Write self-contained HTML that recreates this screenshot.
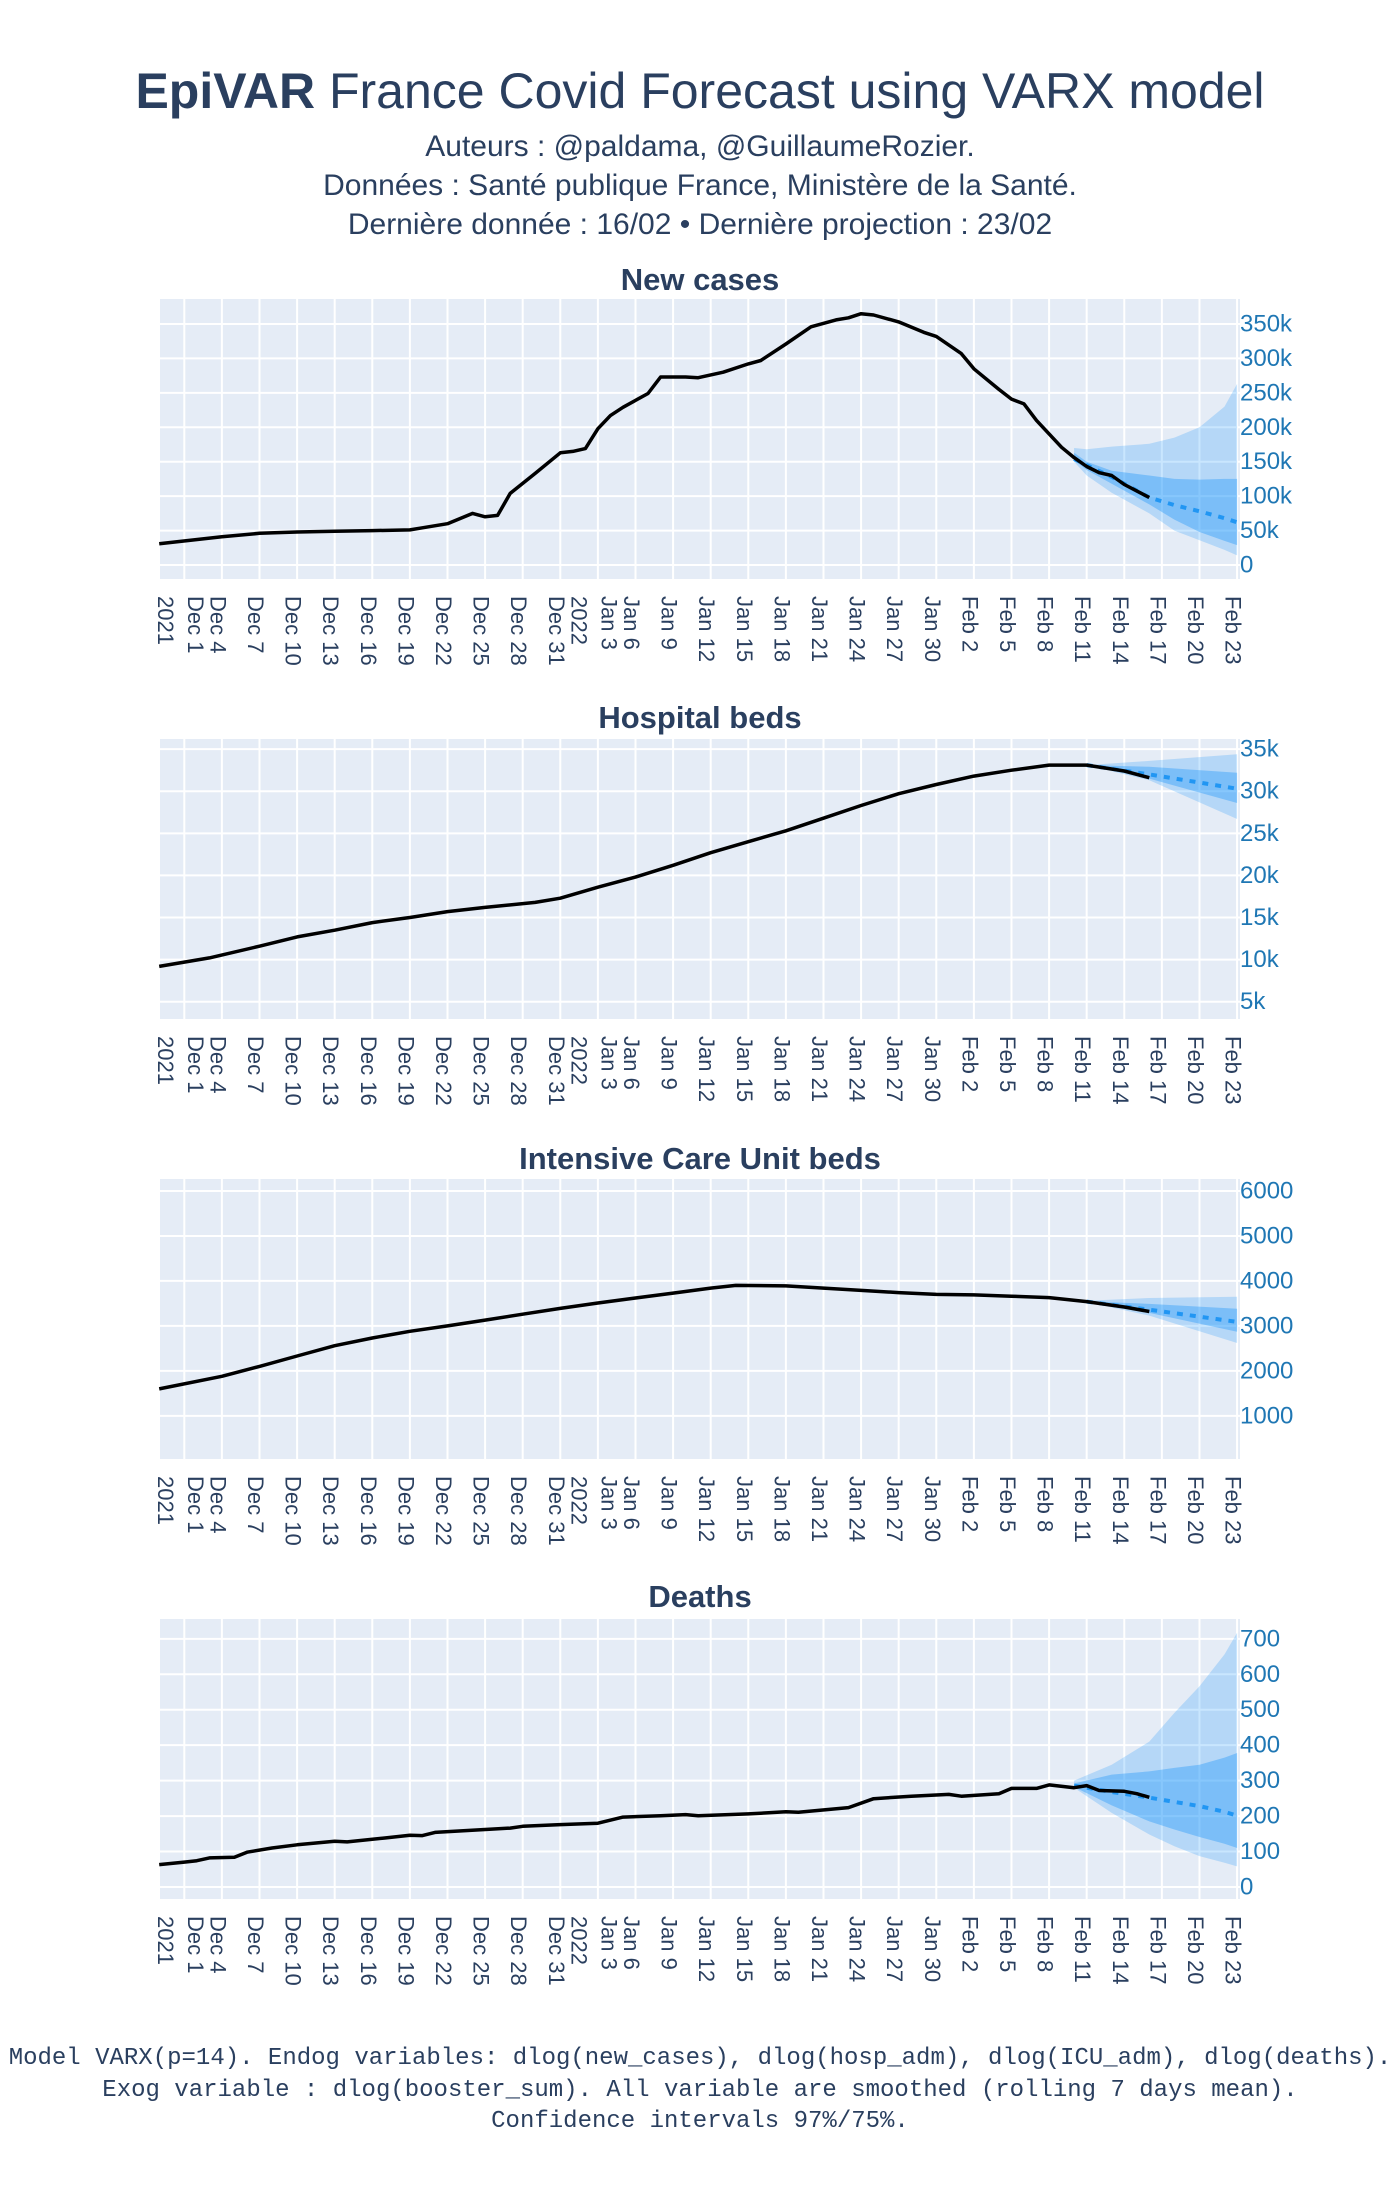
<!DOCTYPE html>
<html><head><meta charset="utf-8"><style>
html,body{margin:0;padding:0;background:#fff;}
svg{display:block;}
.t{font-family:"Liberation Sans",sans-serif;fill:#2a3f5f;}
.mono{font-family:"Liberation Mono",monospace;fill:#2a3f5f;}
</style></head><body>
<svg id="fig" width="1400" height="2200" viewBox="0 0 1400 2200" xmlns="http://www.w3.org/2000/svg">
<rect width="1400" height="2200" fill="#fff"/>
<text class="t" x="700" y="108" text-anchor="middle" font-size="50"><tspan font-weight="bold">EpiVAR</tspan> France Covid Forecast using VARX model</text>
<text class="t" x="700" y="156" text-anchor="middle" font-size="30">Auteurs : @paldama, @GuillaumeRozier.</text>
<text class="t" x="700" y="195" text-anchor="middle" font-size="30">Données : Santé publique France, Ministère de la Santé.</text>
<text class="t" x="700" y="234" text-anchor="middle" font-size="30">Dernière donnée : 16/02 • Dernière projection : 23/02</text>
<text class="mono" x="700" y="2064" text-anchor="middle" font-size="24">Model VARX(p=14). Endog variables: dlog(new_cases), dlog(hosp_adm), dlog(ICU_adm), dlog(deaths).</text>
<text class="mono" x="700" y="2096" text-anchor="middle" font-size="24">Exog variable : dlog(booster_sum). All variable are smoothed (rolling 7 days mean).</text>
<text class="mono" x="700" y="2127" text-anchor="middle" font-size="24">Confidence intervals 97%/75%.</text>
<g id="charts"></g>
</svg>
<script>
// ---- data (dates as YYYY-MM-DD) ----
const casesDates = ["2021-11-29","2021-12-04","2021-12-07","2021-12-10","2021-12-13","2021-12-16","2021-12-19","2021-12-20","2021-12-22","2021-12-24","2021-12-25","2021-12-26","2021-12-27","2021-12-29","2021-12-31","2022-01-01","2022-01-02","2022-01-03","2022-01-04","2022-01-05","2022-01-07","2022-01-08","2022-01-10","2022-01-11","2022-01-13","2022-01-15","2022-01-16","2022-01-18","2022-01-20","2022-01-22","2022-01-23","2022-01-24","2022-01-25","2022-01-27","2022-01-29","2022-01-30","2022-02-01","2022-02-02","2022-02-04","2022-02-05","2022-02-06","2022-02-07","2022-02-09","2022-02-10","2022-02-11","2022-02-12","2022-02-13","2022-02-14","2022-02-16"];
const casesValues = [31,41,46,48,49,50,51,54,60,75,70,72,104,133,163,165,169,198,217,229,249,273,273,272,280,292,297,321,346,356,359,365,363,353,338,332,307,285,255,241,234,210,171,156,143,134,130,117,98];
const casesFcDates = ["2022-02-10","2022-02-11","2022-02-13","2022-02-16","2022-02-18","2022-02-20","2022-02-22","2022-02-23"];
const casesMedian = [154,145,128,98,87,78,68,62];
const casesHi97 = [170,168,172,176,185,200,230,263];
const casesLo97 = [150,130,105,75,50,36,22,14];
const casesHi75 = [163,150,137,130,125,124,125,125];
const casesLo75 = [152,138,118,88,66,48,35,29];

const hospDates = ["2021-11-29","2021-12-03","2021-12-07","2021-12-10","2021-12-13","2021-12-16","2021-12-19","2021-12-22","2021-12-25","2021-12-29","2021-12-31","2022-01-03","2022-01-06","2022-01-09","2022-01-12","2022-01-15","2022-01-18","2022-01-21","2022-01-24","2022-01-27","2022-01-30","2022-02-02","2022-02-05","2022-02-08","2022-02-11","2022-02-14","2022-02-16"];
const hospValues = [9.2,10.2,11.6,12.7,13.5,14.4,15.0,15.7,16.2,16.8,17.3,18.6,19.8,21.2,22.7,24.0,25.3,26.8,28.3,29.7,30.8,31.8,32.5,33.1,33.1,32.4,31.6];
const hospFcDates = ["2022-02-11","2022-02-16","2022-02-23"];
const hospMedian = [33.1,32.0,30.3];
const hospHi97 = [33.1,33.6,34.4];
const hospLo97 = [33.1,31.3,26.7];
const hospHi75 = [33.1,32.9,32.2];
const hospLo75 = [33.1,31.5,28.6];

const icuDates = ["2021-11-29","2021-12-04","2021-12-07","2021-12-10","2021-12-13","2021-12-16","2021-12-19","2021-12-22","2021-12-25","2021-12-28","2021-12-31","2022-01-03","2022-01-06","2022-01-09","2022-01-12","2022-01-14","2022-01-18","2022-01-21","2022-01-24","2022-01-27","2022-01-30","2022-02-02","2022-02-05","2022-02-08","2022-02-11","2022-02-14","2022-02-16"];
const icuValues = [1600,1880,2100,2330,2560,2730,2880,3000,3130,3260,3390,3510,3620,3730,3840,3900,3890,3840,3790,3740,3700,3690,3660,3630,3540,3420,3320];
const icuFcDates = ["2022-02-11","2022-02-16","2022-02-23"];
const icuMedian = [3540,3360,3090];
const icuHi97 = [3560,3620,3650];
const icuLo97 = [3530,3230,2620];
const icuHi75 = [3550,3490,3380];
const icuLo75 = [3535,3290,2870];

const deathDates = ["2021-11-29","2021-12-01","2021-12-02","2021-12-03","2021-12-05","2021-12-06","2021-12-08","2021-12-10","2021-12-13","2021-12-14","2021-12-17","2021-12-19","2021-12-20","2021-12-21","2021-12-25","2021-12-27","2021-12-28","2021-12-31","2022-01-03","2022-01-05","2022-01-08","2022-01-10","2022-01-11","2022-01-15","2022-01-18","2022-01-19","2022-01-23","2022-01-25","2022-01-28","2022-01-31","2022-02-01","2022-02-04","2022-02-05","2022-02-07","2022-02-08","2022-02-10","2022-02-11","2022-02-12","2022-02-14","2022-02-15","2022-02-16"];
const deathValues = [63,70,74,82,84,98,110,119,129,127,138,146,145,154,162,166,171,176,180,197,201,204,201,206,212,211,224,249,256,261,256,263,278,278,288,280,286,272,270,263,253];
const deathFcDates = ["2022-02-10","2022-02-13","2022-02-16","2022-02-18","2022-02-20","2022-02-22","2022-02-23"];
const deathMedian = [286,268,252,240,228,212,201];
const deathHi97 = [300,345,410,491,566,656,717];
const deathLo97 = [280,209,148,115,87,68,58];
const deathHi75 = [292,317,326,336,345,365,378];
const deathLo75 = [282,230,185,162,141,122,110];

const xTickDates = ["2021-12-01","2021-12-04","2021-12-07","2021-12-10","2021-12-13","2021-12-16","2021-12-19","2021-12-22","2021-12-25","2021-12-28","2021-12-31","2022-01-03","2022-01-06","2022-01-09","2022-01-12","2022-01-15","2022-01-18","2022-01-21","2022-01-24","2022-01-27","2022-01-30","2022-02-02","2022-02-05","2022-02-08","2022-02-11","2022-02-14","2022-02-17","2022-02-20","2022-02-23"];
const xTickLabels = ["Dec 1","Dec 4","Dec 7","Dec 10","Dec 13","Dec 16","Dec 19","Dec 22","Dec 25","Dec 28","Dec 31","Jan 3","Jan 6","Jan 9","Jan 12","Jan 15","Jan 18","Jan 21","Jan 24","Jan 27","Jan 30","Feb 2","Feb 5","Feb 8","Feb 11","Feb 14","Feb 17","Feb 20","Feb 23"];
const xTickYears = ["2021","","","","","","","","","","","2022","","","","","","","","","","","","","","","","",""];

const casesTicks = [0,50,100,150,200,250,300,350];
const casesTickLabels = ["0","50k","100k","150k","200k","250k","300k","350k"];
const hospTicks = [5,10,15,20,25,30,35];
const hospTickLabels = ["5k","10k","15k","20k","25k","30k","35k"];
const icuTicks = [1000,2000,3000,4000,5000,6000];
const icuTickLabels = ["1000","2000","3000","4000","5000","6000"];
const deathTicks = [0,100,200,300,400,500,600,700];
const deathTickLabels = ["0","100","200","300","400","500","600","700"];

const NS = "http://www.w3.org/2000/svg";
const root = document.getElementById("charts");
const X0 = 160, X1 = 1240, PXDAY = 12.533, XREF = 184.3;
function dayOf(s){const p=s.split("-");return (Date.UTC(+p[0],+p[1]-1,+p[2])-Date.UTC(2021,11,1))/86400000;}
function xScale(s){return XREF + dayOf(s)*PXDAY;}
function mk(tag, attrs, parent){const e=document.createElementNS(NS,tag);for(const k in attrs)e.setAttribute(k,attrs[k]);(parent||root).appendChild(e);return e;}

function chart(cfg){
  const g = mk("g",{});
  
  
  const top=cfg.top, h=280, bot=top+h;
  const yScale = v => bot - (v - cfg.ymin)/(cfg.ymax - cfg.ymin)*h;
  const bg = mk("rect",{x:X0,y:top,width:X1-X0,height:h,fill:"#e5ecf6"},g);
  
  
  const title = mk("text",{x:700,y:cfg.titleY,"text-anchor":"middle","font-size":31,"font-weight":"bold",class:"t"},g);
  title.textContent = cfg.title;
  
  
  xTickDates.forEach((d,i)=>{
    const x=xScale(d);
    const gl = mk("line",{x1:x,x2:x,y1:top,y2:bot,stroke:"#fff","stroke-width":2},g);
    
    
    const tg = mk("text",{class:"t","font-size":22,transform:"translate("+x+","+(bot+17)+") rotate(90)"},g);
    
    
    if(xTickYears[i]){
      const a=mk("tspan",{x:0,y:-11,"dominant-baseline":"central"},tg); a.textContent=xTickLabels[i];
      const b=mk("tspan",{x:0,y:19,"dominant-baseline":"central"},tg); b.textContent=xTickYears[i];
    } else {
      const a=mk("tspan",{x:0,y:4,"dominant-baseline":"central"},tg); a.textContent=xTickLabels[i];
    }
  });
  cfg.ticks.forEach((v,i)=>{
    const y=yScale(v);
    const gl = mk("line",{x1:X0,x2:X1,y1:y,y2:y,stroke:"#fff","stroke-width":2},g);
    
    
    const tl = mk("text",{x:1240,y:y,"dominant-baseline":"central","font-size":24,fill:"#1f77b4","font-family":"Liberation Sans, sans-serif"},g);
    tl.textContent = cfg.tickLabels[i];
    
    
  });
  function band(hi, lo, fill, nm){
    let d="";
    cfg.fcDates.forEach((dt,i)=>{d+=(i?"L":"M")+xScale(dt).toFixed(1)+","+yScale(hi[i]).toFixed(1);});
    for(let i=cfg.fcDates.length-1;i>=0;i--) d+="L"+xScale(cfg.fcDates[i]).toFixed(1)+","+yScale(lo[i]).toFixed(1);
    const p=mk("path",{d:d+"Z",fill:fill,stroke:"none"},g);
    
    
  }
  band(cfg.hi97, cfg.lo97, "rgba(30,150,250,0.24)", cfg.name + '-ci-97-band');
  band(cfg.hi75, cfg.lo75, "rgba(30,150,250,0.38)", cfg.name + '-ci-75-band');
  const md = cfg.fcDates.map((dt,i)=>xScale(dt).toFixed(1)+","+yScale(cfg.median[i]).toFixed(1)).join(" ");
  const ml = mk("polyline",{points:md,fill:"none",stroke:"#2196f3","stroke-width":4,"stroke-dasharray":"6,7"},g);
  
  
  const ad = cfg.dates.map((dt,i)=>xScale(dt).toFixed(1)+","+yScale(cfg.values[i]).toFixed(1)).join(" ");
  const al = mk("polyline",{points:ad,fill:"none",stroke:"#000","stroke-width":3.5,"stroke-linejoin":"round"},g);
  
  
}

chart({name:"new-cases",title:"New cases",top:299,titleY:290,ymin:-20.3,ymax:386.3,ticks:casesTicks,tickLabels:casesTickLabels,dates:casesDates,values:casesValues,fcDates:casesFcDates,median:casesMedian,hi97:casesHi97,lo97:casesLo97,hi75:casesHi75,lo75:casesLo75});
chart({name:"hospital-beds",title:"Hospital beds",top:739,titleY:728,ymin:2.95,ymax:36.2,ticks:hospTicks,tickLabels:hospTickLabels,dates:hospDates,values:hospValues,fcDates:hospFcDates,median:hospMedian,hi97:hospHi97,lo97:hospLo97,hi75:hospHi75,lo75:hospLo75});
chart({name:"icu-beds",title:"Intensive Care Unit beds",top:1179,titleY:1169,ymin:40,ymax:6267,ticks:icuTicks,tickLabels:icuTickLabels,dates:icuDates,values:icuValues,fcDates:icuFcDates,median:icuMedian,hi97:icuHi97,lo97:icuLo97,hi75:icuHi75,lo75:icuLo75});
chart({name:"deaths",title:"Deaths",top:1619,titleY:1607,ymin:-34,ymax:756,ticks:deathTicks,tickLabels:deathTickLabels,dates:deathDates,values:deathValues,fcDates:deathFcDates,median:deathMedian,hi97:deathHi97,lo97:deathLo97,hi75:deathHi75,lo75:deathLo75});
</script>
</body></html>
